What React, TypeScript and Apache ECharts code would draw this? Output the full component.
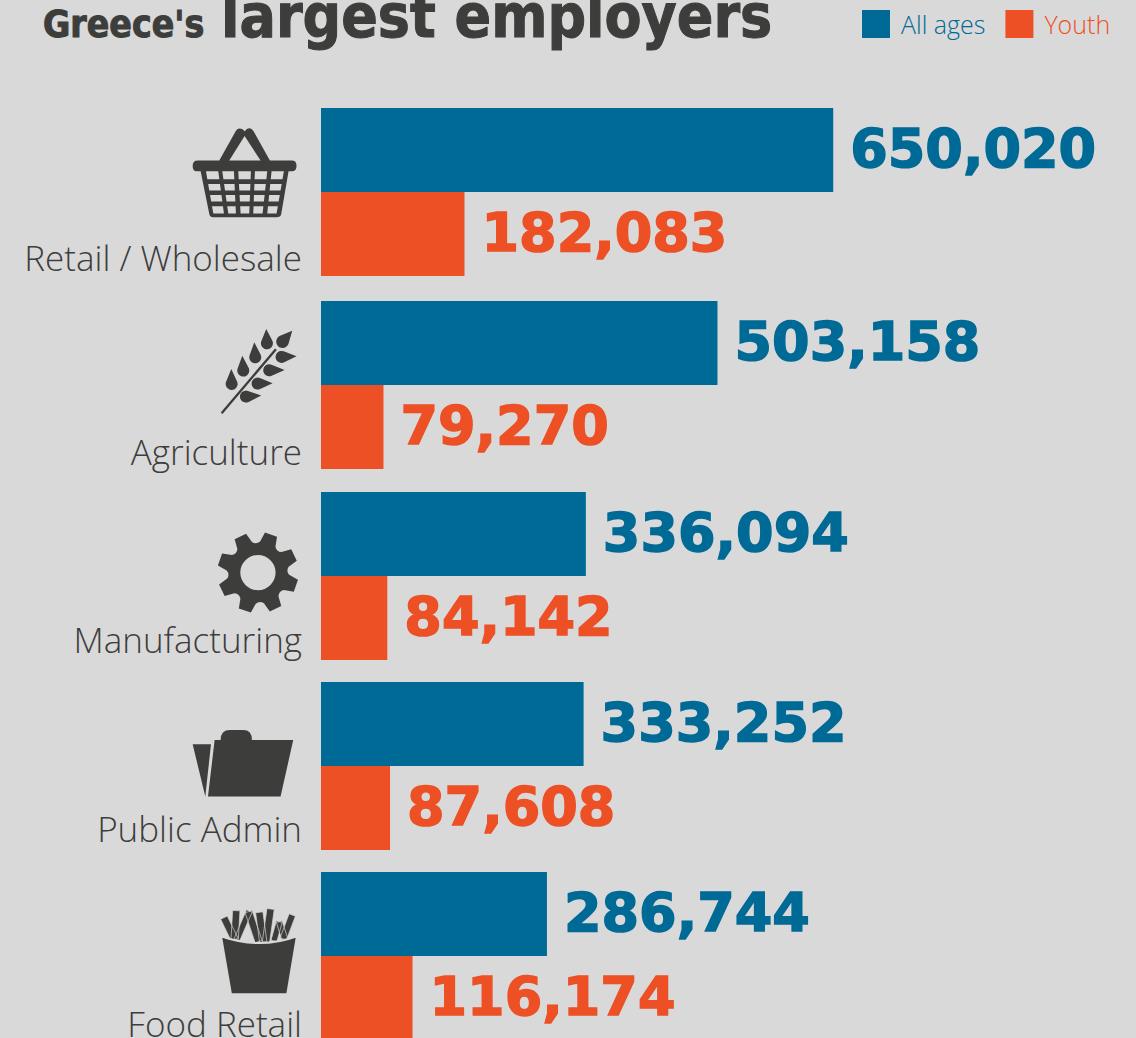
import React, { useEffect, useRef } from "react";
import * as echarts from "echarts";

const sectors = ["Retail / Wholesale", "Agriculture", "Manufacturing", "Public Admin", "Food Retail"];
const allAges = [650020, 503158, 336094, 333252, 286744];
const youth = [182083, 79270, 84142, 87608, 116174];
const titleLead = "Greece's";
const titleMain = "largest employers";

const BG = "#d9d9d9";
const DARK = "#3d3d3c";
const BLUE = "#006a96";
const ORANGE = "#ed5024";

// layout of the rows (pixels)
const rowTops = [108, 301, 492, 682, 872];
const labelShift = [65, 66, 63, 62, 67];

const basketPath = (): string => {
  let d =
    "M160,184 L80,184 Q68,184 68,168 Q68,152 84,152 L148,152 L198,62 Q205,52 218,58 L224,64 L232,56 Q242,52 250,62 L300,152 L366,152 Q380,152 380,168 Q380,184 366,184 L356,184 L334,312 Q332,322 320,322 L130,322 Q120,322 118,312 L92,184 Z " +
    "M178,152 L272,152 L224,78 Z ";
  const rows = [[184, 208], [222, 242], [255, 275], [289, 311]];
  const topCols = [[108, 145], [157, 192], [205, 243], [255, 292], [305, 342]];
  const botCols = [[130, 162], [175, 198], [212, 238], [250, 278], [292, 320]];
  const at = (a: number, b: number, y: number) => a + ((b - a) * (y - 184)) / (311 - 184);
  for (const [y0, y1] of rows) {
    for (let c = 0; c < 5; c++) {
      const x00 = at(topCols[c][0], botCols[c][0], y0);
      const x01 = at(topCols[c][1], botCols[c][1], y0);
      const x10 = at(topCols[c][0], botCols[c][0], y1);
      const x11 = at(topCols[c][1], botCols[c][1], y1);
      d += `M${x00},${y0} L${x10},${y1} L${x11},${y1} L${x01},${y0} Z `;
    }
  }
  return d;
};

const drop = (cx: number, cy: number, r: number, tx: number, ty: number): string => {
  const th = Math.atan2(cy - ty, cx - tx) + Math.PI; // direction centre -> tip
  const dist = Math.hypot(tx - cx, ty - cy);
  const al = Math.acos(r / dist);
  const p = (a: number) => `${cx + r * Math.cos(a)},${cy + r * Math.sin(a)}`;
  return `M${tx},${ty} L${p(th + al)} A${r},${r} 0 1 1 ${p(th - al)} Z `;
};

const bar = (x0: number, y0: number, x1: number, y1: number, w: number): string => {
  const l = Math.hypot(x1 - x0, y1 - y0);
  const nx = (-(y1 - y0) / l) * (w / 2);
  const ny = ((x1 - x0) / l) * (w / 2);
  return `M${x0 + nx},${y0 + ny} L${x1 + nx},${y1 + ny} L${x1 - nx},${y1 - ny} L${x0 - nx},${y0 - ny} Z `;
};

const wheatPath = (): string =>
  bar(95, 295, 258, 103, 7) +
  drop(231, 85, 18, 229, 42) +
  drop(196, 127, 18, 193, 82) +
  drop(160, 167, 18, 157, 122) +
  drop(125, 207, 18, 124, 162) +
  drop(278, 80, 19, 307, 47) +
  drop(275, 126, 18, 320, 124) +
  drop(238, 166, 18, 284, 165) +
  drop(203, 206, 18, 248, 205) +
  drop(168, 245, 18, 214, 242);

const gearPath = (): string => {
  const cx = 204, cy = 158;
  const pt = (deg: number, r: number) => {
    const a = (deg * Math.PI) / 180;
    return `${cx + r * Math.cos(a)},${cy + r * Math.sin(a)}`;
  };
  let d = "";
  for (let k = 0; k < 8; k++) {
    const c = -71 + 45 * k;
    d += `${k === 0 ? "M" : "L"}${pt(c - 15, 94)} L${pt(c - 9, 122)} L${pt(c + 9, 122)} L${pt(c + 15, 94)} Q${pt(c + 22.5, 84)} ${pt(c + 30, 94)} `;
  }
  d += "Z ";
  d += `M${cx + 53},${cy} A53,53 0 0 0 ${cx - 53},${cy} A53,53 0 0 0 ${cx + 53},${cy} Z`;
  return d;
};

const folderPath =
  "M38,88 L93,88 L76,245 Z M104,75 L122,75 Q122,45 150,45 L190,45 Q216,45 216,75 L340,75 L302,245 L84,245 Z";

const friesSticks = (): string =>
  bar(72, 68, 104, 134, 22) +
  bar(109, 47, 104, 134, 22) +
  bar(148, 48, 110, 136, 18) +
  bar(146, 50, 176, 140, 22) +
  bar(178, 52, 190, 142, 22) +
  bar(212, 42, 198, 142, 22) +
  bar(238, 80, 255, 134, 18) +
  bar(238, 80, 222, 138, 18) +
  bar(277, 60, 250, 132, 20);
const friesBox = "M63,124 Q180,165 291,124 L262,298 L93,298 Z";

echarts.graphic.registerShape("basketIcon", echarts.graphic.extendPath(basketPath(), {}));
echarts.graphic.registerShape("wheatIcon", echarts.graphic.extendPath(wheatPath(), {}));
echarts.graphic.registerShape("gearIcon", echarts.graphic.extendPath(gearPath(), {}));
echarts.graphic.registerShape("folderIcon", echarts.graphic.extendPath(folderPath, {}));
echarts.graphic.registerShape("friesIcon", echarts.graphic.extendPath(friesSticks(), {}));
echarts.graphic.registerShape("friesBoxIcon", echarts.graphic.extendPath(friesBox, {}));

const icon = (type: string, x: number, y: number, extra: any = {}) => ({
  type,
  x,
  y,
  scaleX: 1 / 3,
  scaleY: 1 / 3,
  silent: true,
  style: { fill: DARK, ...extra },
});

export default function App() {
  const ref = useRef<HTMLDivElement>(null);
  useEffect(() => {
    const chart = echarts.init(ref.current!, undefined, { renderer: "svg" });
    const valueLabel = (color: string) => ({
      show: true,
      position: "right" as const,
      distance: 17,
      offset: [0, -2],
      color,
      fontFamily: "DejaVu Sans",
      fontWeight: "bold" as const,
      fontSize: 54,
      textBorderColor: color,
      textBorderWidth: 1.5,
      formatter: (p: any) => Number(p.value).toLocaleString("en-US"),
    });
    const titleStyle = (fontSize: number) => ({
      fontFamily: "DejaVu Sans Condensed",
      fontWeight: "bold",
      fontSize,
      color: DARK,
      textBorderColor: DARK,
      textBorderWidth: 1,
    });
    chart.setOption({
      animation: false,
      backgroundColor: BG,
      title: [
        { text: titleLead, left: 43, top: 6, padding: 0, textStyle: titleStyle(37) },
        { text: titleMain, left: 221, top: -14, padding: 0, textStyle: titleStyle(60) },
      ],
      legend: {
        left: 862,
        top: 10,
        padding: 0,
        itemWidth: 28,
        itemHeight: 28,
        itemGap: 20,
        icon: "rect",
        data: [
          { name: "All ages", textStyle: { color: BLUE } },
          { name: "Youth", textStyle: { color: ORANGE } },
        ],
        selectedMode: false,
        textStyle: {
          fontFamily: "Open Sans",
          fontWeight: 300,
          fontSize: 25,
          padding: [0, 0, 0, 6],
        },
      },
      grid: rowTops.map((top) => ({ left: 321, top, width: 788, height: 168, outerBoundsMode: "none" })),
      xAxis: sectors.map((_, i) => ({ type: "value", gridIndex: i, min: 0, max: 1000000, show: false })),
      yAxis: sectors.map((name, i) => ({
        type: "category",
        gridIndex: i,
        inverse: true,
        data: [name],
        axisLine: { show: false },
        axisTick: { show: false },
        splitLine: { show: false },
        axisLabel: {
          margin: 19,
          formatter: (v: string) => `{a|${v}}`,
          rich: {
            a: {
              color: DARK,
              fontFamily: "Open Sans",
              fontWeight: 300,
              fontSize: 35,
              padding: [labelShift[i] * 2, 0, 0, 0],
            },
          },
        },
      })),
      series: sectors.flatMap((_, i) => [
        {
          type: "bar",
          name: "All ages",
          xAxisIndex: i,
          yAxisIndex: i,
          data: [allAges[i]],
          barWidth: 84,
          barGap: 0,
          itemStyle: { color: BLUE },
          label: valueLabel(BLUE),
        },
        {
          type: "bar",
          name: "Youth",
          xAxisIndex: i,
          yAxisIndex: i,
          data: [youth[i]],
          barWidth: 84,
          barGap: 0,
          itemStyle: { color: ORANGE },
          label: valueLabel(ORANGE),
        },
      ]),
      graphic: [
        icon("basketIcon", 170, 110),
        icon("wheatIcon", 190, 315),
        icon("gearIcon", 190, 520),
        icon("folderIcon", 180, 715),
        icon("friesIcon", 200, 895, { stroke: BG, lineWidth: 2 }),
        icon("friesBoxIcon", 200, 895, { stroke: BG, lineWidth: 6 }),
      ],
    });
    return () => chart.dispose();
  }, []);
  return <div ref={ref} style={{ position: "fixed", left: 0, top: 0, width: 1136, height: 1038 }} />;
}
